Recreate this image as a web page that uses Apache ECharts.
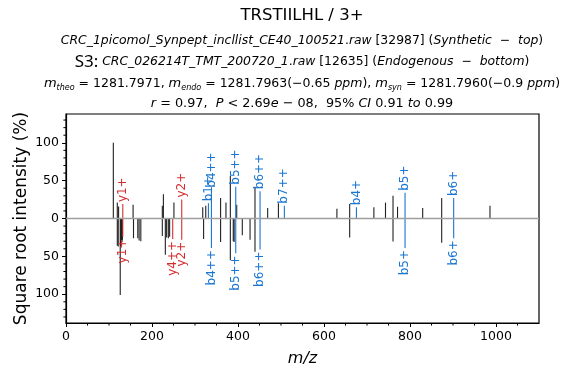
<!DOCTYPE html>
<html>
<head>
<meta charset="utf-8">
<script src="https://cdn.jsdelivr.net/npm/echarts@6/dist/echarts.min.js"></script>
<style>
  html, body { margin: 0; padding: 0; background: #fff; }
  #chart { width: 570px; height: 369px; }
</style>
</head>
<body>
<div id="chart"></div>
<script>
// Synthetic spectrum (top), unannotated peaks: m/z and square-root intensity (%)
const synMz  = [110.07, 119.3, 122.3, 156.0, 224.0, 226.5, 251.0, 318.0, 325.0, 359.5, 372.0, 382.2, 397.0, 439.5, 469.0, 494.0, 630.0, 659.7, 716.0, 743.0, 760.5, 771.0, 829.5, 873.7, 986.0];
const synInt = [100, 21, 16, 18, 17, 32, 21, 15, 17, 27, 21, 56, 18, 42, 14, 20, 13, 19, 15, 21, 30, 15.5, 14, 27, 17];

// Endogenous spectrum (bottom, mirrored), unannotated peaks
const endoMz  = [119.3, 121.5, 126.13, 127.13, 128.13, 129.13, 130.14, 131.14, 157.0, 167.0, 170.0, 174.0, 224.0, 231.0, 234.0, 238.0, 241.0, 320.0, 359.5, 382.2, 389.0, 391.0, 410.0, 428.0, 439.5, 659.7, 760.5, 873.7];
const endoInt = [36, 37, 101, 36, 35, 34, 31, 28, 26, 26, 29, 30, 23, 48, 25, 26, 24, 27, 31, 55, 30, 31, 22, 28, 44, 25, 30.5, 32];

// Annotated fragment ions
const synIonLabels = ['y1+', 'y2+', 'b1+', 'b4++', 'b5++', 'b6++', 'b7++', 'b4+', 'b5+', 'b6+'];
const synIonMz     = [132.10, 269.16, 331.22, 338.20, 394.75, 451.29, 507.83, 675.40, 788.48, 901.57];
const synIonInt    = [19, 25, 20, 38, 42, 36, 17, 15, 34, 27];

const endoIonLabels = ['y1+', 'y4++', 'y2+', 'b4++', 'b5++', 'b6++', 'b5+', 'b6+'];
const endoIonMz     = [132.10, 248.17, 269.16, 338.20, 394.75, 451.29, 788.48, 901.57];
const endoIonInt    = [24, 27, 28, 39, 46, 41, 39, 26];

// Axis ranges and ticks
const X_MIN = 0, X_MAX = 1100;
const Y_MIN = -138, Y_MAX = 138;
const xTicks = [0, 200, 400, 600, 800, 1000];
const xMinorTicks = [50, 100, 150, 250, 300, 350, 450, 500, 550, 650, 700, 750, 850, 900, 950, 1050];
const yTicks = [-100, -50, 0, 50, 100];
const yMinorTicks = [-130, -120, -110, -90, -80, -70, -60, -40, -30, -20, -10, 10, 20, 30, 40, 60, 70, 80, 90, 110, 120, 130];

const FONT = 'DejaVu Sans';
const PEAK_COLOR = '#212121';
const ION_COLORS = { y: '#D32F2F', b: '#1976D2' };

const chart = echarts.init(document.getElementById('chart'), null, { renderer: 'canvas' });

function peakSeries(mz, inten, sign) {
  return {
    type: 'custom',
    data: mz.map((m, i) => [m, sign * inten[i]]),
    renderItem(params, api) {
      const p0 = api.coord([api.value(0), 0]);
      const p1 = api.coord([api.value(0), api.value(1)]);
      return {
        type: 'line',
        shape: { x1: p0[0], y1: p0[1], x2: p1[0], y2: p1[1] },
        style: { stroke: PEAK_COLOR, lineWidth: 1.1 }
      };
    },
    silent: true, z: 2
  };
}

function ionSeries(labels, mz, inten, sign) {
  return {
    type: 'custom',
    data: mz.map((m, i) => [m, sign * inten[i], i]),
    renderItem(params, api) {
      const label = labels[api.value(2)];
      const color = ION_COLORS[label[0]];
      const p0 = api.coord([api.value(0), 0]);
      const p1 = api.coord([api.value(0), api.value(1)]);
      return {
        type: 'group',
        children: [
          {
            type: 'line',
            shape: { x1: p0[0], y1: p0[1], x2: p1[0], y2: p1[1] },
            style: { stroke: color, lineWidth: 1.1 }
          },
          {
            type: 'text',
            x: p1[0], y: p1[1] + (sign > 0 ? -2 : 2),
            rotation: Math.PI / 2,
            style: {
              text: label, fill: color,
              font: '12px "' + FONT + '"',
              align: sign > 0 ? 'left' : 'right',
              verticalAlign: 'middle'
            }
          }
        ]
      };
    },
    silent: true, z: 3
  };
}

// Short outward minor ticks on the bottom (x) and left (y) axes
const MINOR_LEN = 2;
function minorTickSeries(values, dim) {
  return {
    type: 'custom',
    data: values.map(v => dim === 'x' ? [v, Y_MIN] : [X_MIN, v]),
    renderItem(params, api) {
      const p = api.coord([api.value(0), api.value(1)]);
      const shape = dim === 'x'
        ? { x1: p[0], y1: p[1], x2: p[0], y2: p[1] + MINOR_LEN + 0.6 }
        : { x1: p[0], y1: p[1], x2: p[0] - MINOR_LEN - 0.6, y2: p[1] };
      return { type: 'line', shape: shape, style: { stroke: '#000', lineWidth: 1 } };
    },
    clip: false, silent: true, z: 5
  };
}

const rich = {
  i: { fontFamily: FONT, fontSize: 12.4, fontStyle: 'italic', color: '#000' },
  n: { fontFamily: FONT, fontSize: 12.4, color: '#000' },
  s: { fontFamily: 'Noto Sans', fontSize: 17, color: '#000' },
  m: { fontFamily: FONT, fontSize: 13, fontStyle: 'italic', color: '#000' },
  sub: { fontFamily: FONT, fontSize: 8, fontStyle: 'italic', color: '#000', padding: [7, 0, 0, 0] },
  t: { fontFamily: FONT, fontSize: 12.5, color: '#000' },
  ti: { fontFamily: FONT, fontSize: 12.5, fontStyle: 'italic', color: '#000' },
  ii: { fontFamily: FONT, fontSize: 12.8, fontStyle: 'italic', color: '#000' },
  nn: { fontFamily: FONT, fontSize: 12.8, color: '#000' }
};

function headerText(y, text) {
  return {
    type: 'text', x: 302, y: y,
    style: { text: text, rich: rich, align: 'center', verticalAlign: 'middle', font: '12px "' + FONT + '"', fill: '#000' }
  };
}

const option = {
  animation: false,
  backgroundColor: '#fff',
  grid: {
    left: 66, right: 31, top: 114, bottom: 46, containLabel: false, outerBoundsMode: 'none',
    show: true, borderColor: '#000', borderWidth: 1.2, backgroundColor: 'transparent'
  },
  xAxis: {
    type: 'value', min: X_MIN, max: X_MAX, interval: 200,
    name: 'm/z', nameLocation: 'middle', nameGap: 28, nameMoveOverlap: false,
    nameTextStyle: { fontFamily: FONT, fontSize: 16, fontStyle: 'italic', color: '#000' },
    axisLine: { show: true, onZero: false, lineStyle: { color: '#000', width: 1.2 } },
    axisTick: { show: true, inside: false, length: 4, customValues: xTicks, lineStyle: { color: '#000', width: 1 } },
    axisLabel: { customValues: xTicks, fontFamily: FONT, fontSize: 12.5, color: '#000', margin: 7,
                 formatter: v => String(v) },
    splitLine: { show: false }
  },
  yAxis: {
    type: 'value', min: Y_MIN, max: Y_MAX,
    name: 'Square root intensity (%)', nameLocation: 'middle', nameGap: 36, nameRotate: 90, nameMoveOverlap: false,
    nameTextStyle: { fontFamily: FONT, fontSize: 17, color: '#000' },
    axisLine: { show: true, onZero: false, lineStyle: { color: '#000', width: 1.2 } },
    axisTick: { show: true, inside: false, length: 4, customValues: yTicks, lineStyle: { color: '#000', width: 1 } },
    axisLabel: { customValues: yTicks, fontFamily: FONT, fontSize: 12.5, color: '#000', margin: 7,
                 formatter: v => String(Math.abs(v)) },
    splitLine: { show: false }
  },
  series: [
    {
      type: 'custom', data: [],
      renderItem() { return null; },
      markLine: {
        silent: true, symbol: 'none', animation: false,
        label: { show: false },
        lineStyle: { color: '#9E9E9E', type: 'solid', width: 1.3 },
        data: [{ yAxis: 0 }]
      },
      z: 1
    },
    peakSeries(synMz, synInt, 1),
    peakSeries(endoMz, endoInt, -1),
    ionSeries(synIonLabels, synIonMz, synIonInt, 1),
    ionSeries(endoIonLabels, endoIonMz, endoIonInt, -1),
    minorTickSeries(xMinorTicks, 'x'),
    minorTickSeries(yMinorTicks, 'y')
  ],
  graphic: [
    {
      type: 'text', x: 302, y: 16,
      style: { text: 'TRSTIILHL / 3+', font: '16.5px "' + FONT + '"', fill: '#000', align: 'center', verticalAlign: 'middle' }
    },
    headerText(41, '{i|CRC_1picomol_Synpept_incllist_CE40_100521}{n|.}{i|raw} {n|[32987] (}{i|Synthetic}{n|  −  }{i|top}{n|)}'),
    headerText(62, '{s|S3:} {i|CRC_026214T_TMT_200720_1}{n|.}{i|raw} {n|[12635] (}{i|Endogenous}{n|  −  }{i|bottom}{n|)}'),
    headerText(84, '{m|m}{sub|theo}{t| = 1281.7971, }{m|m}{sub|endo}{t| = 1281.7963(−0.65 }{ti|ppm}{t|), }{m|m}{sub|syn}{t| = 1281.7960(−0.9 }{ti|ppm}{t|)}'),
    headerText(104, '{ii|r}{nn| = 0.97,  }{ii|P}{nn| < 2.69}{ii|e}{nn| − 08,  95% }{ii|CI}{nn| 0.91 }{ii|to}{nn| 0.99}')
  ]
};

chart.setOption(option);
</script>
</body>
</html>
